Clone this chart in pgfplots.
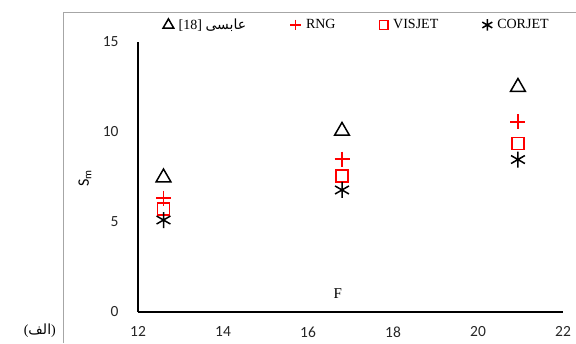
\documentclass[border=0pt]{standalone}
\usepackage{fontspec}
\usepackage{pgfplots}
\pgfplotsset{compat=1.18}
\setmainfont{Liberation Serif}
\newfontfamily\calibri{Carlito}
\newfontfamily\arabicfont[Script=Arabic]{DejaVu Sans}
\TeXXeTstate=1
\begin{document}
\begin{tikzpicture}[x=1pt,y=1pt]
\useasboundingbox (0,0) rectangle (576,343);
\draw[black!35, line width=1pt] (63,0) -- (63,330) -- (576,330);
\node[anchor=east, font=\fontsize{14}{16}\selectfont, inner sep=0pt] at (56,12) {({\arabicfont\beginR الف\endR})};
\begin{axis}[
  at={(138pt,31pt)}, anchor=south west,
  scale only axis, width=425pt, height=270pt,
  xmin=12, xmax=22, ymin=0, ymax=15,
  xtick={12,14,...,22}, ytick={0,5,10,15},
  axis x line=bottom, axis y line=left,
  axis line style={line width=2.5pt, -},
  major tick length=0pt,
  /pgf/number format/assume math mode=true,
  tick label style={font=\calibri\fontsize{15.5}{17}\selectfont, text=black!85},
  xticklabel style={yshift=-11pt},
  yticklabel style={xshift=-16pt},
  clip=false,
  legend columns=4,
  legend cell align=left,
  legend style={draw=none, fill=none, at={(rel axis cs:0.515,1.063)}, anchor=center,
    font=\fontsize{14}{16}\selectfont,
    /tikz/every odd column/.append style={column sep=3pt},
    /tikz/every even column/.append style={column sep=42pt}},
  legend image post style={scale=0.72},
]
\addplot[only marks, mark=triangle, mark size=8.5pt, black, line width=1.5pt]
  coordinates {(12.6,7.47) (16.8,10.06) (20.94,12.5)};
\addlegendentry{[18] {\arabicfont\beginR عابسی\endR}}
\addplot[only marks, mark=+, mark size=7.5pt, red, line width=1.5pt]
  coordinates {(12.6,6.33) (16.8,8.5) (20.94,10.56)};
\addlegendentry{RNG}
\addplot[only marks, mark=square, mark size=6pt, red, line width=1.5pt]
  coordinates {(12.6,5.72) (16.8,7.56) (20.94,9.36)};
\addlegendentry{VISJET}
\addplot[only marks, mark=asterisk, mark size=8pt, black, line width=1.5pt]
  coordinates {(12.6,5.11) (16.8,6.78) (20.94,8.47)};
\addlegendentry{CORJET}
\node[font=\fontsize{15}{17}\selectfont] at (rel axis cs:0.47,0.07) {F};
\node[rotate=90, font=\calibri\fontsize{16}{18}\selectfont] at (rel axis cs:-0.125,0.496) {S\textsubscript{m}};
\end{axis}
\end{tikzpicture}
\end{document}
